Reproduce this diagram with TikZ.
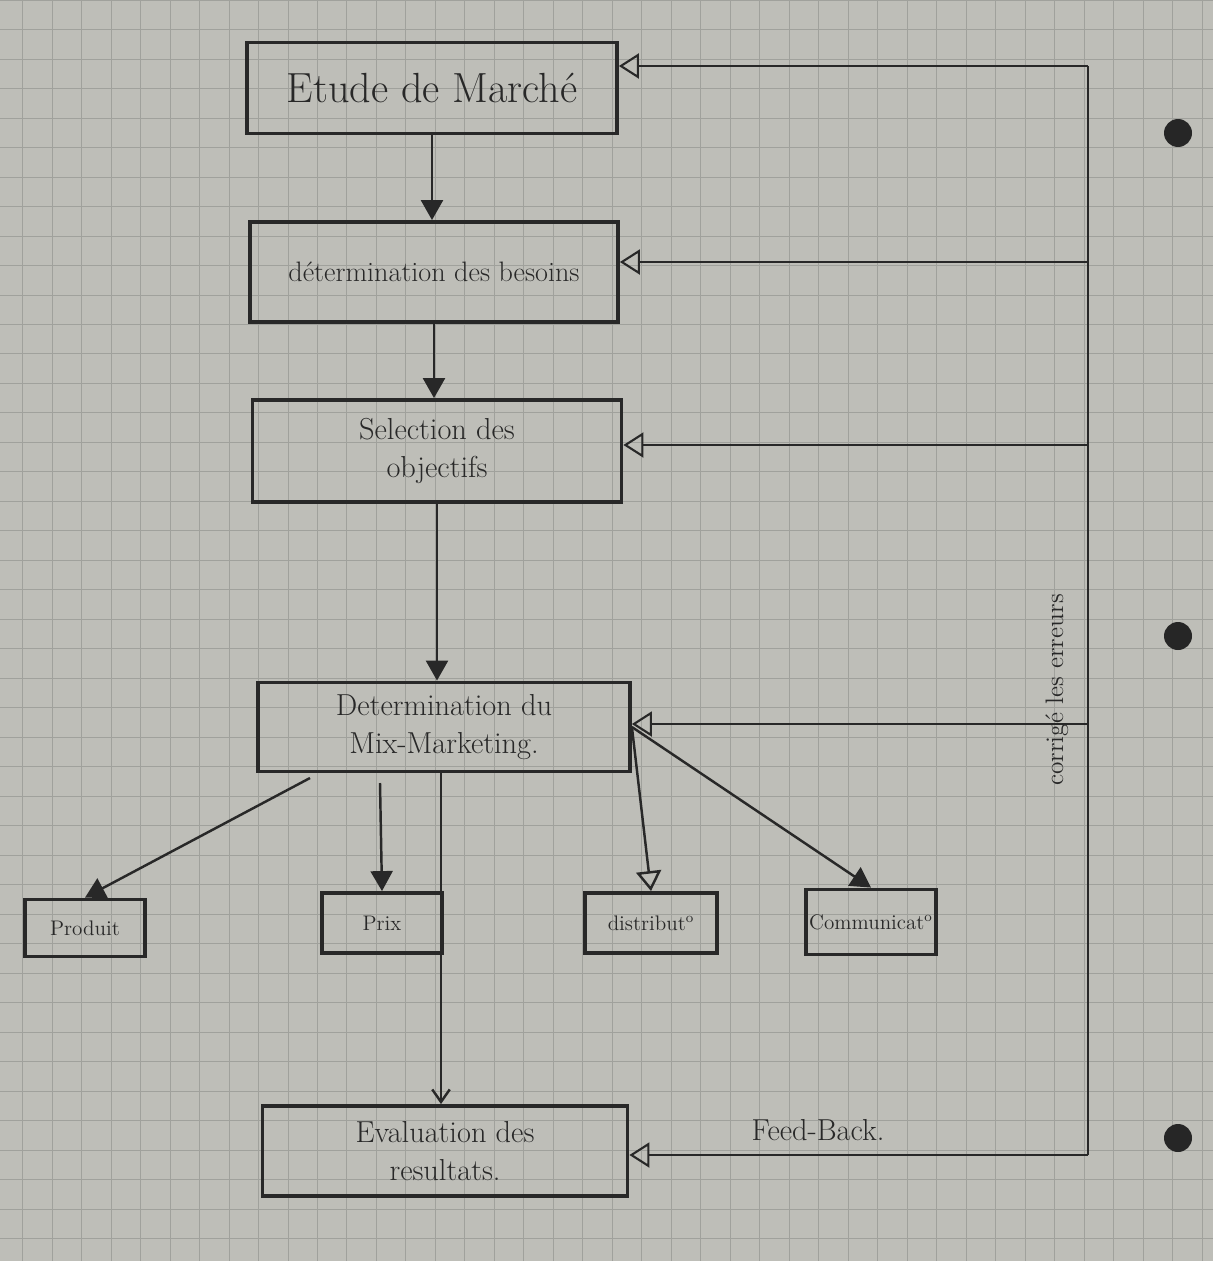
\documentclass[tikz,border=0pt]{standalone}
\usetikzlibrary{arrows.meta}

\definecolor{paper}{RGB}{190,190,184}
\definecolor{gridc}{RGB}{160,161,156}
\definecolor{ink}{RGB}{40,40,40}

\tikzset{
  box/.style={draw=ink, line width=2.2pt, inner sep=2pt, align=center, text=ink},
  petit/.style={box, minimum height=1.2cm, font=\large},
  down/.style={draw=ink, line width=1.4pt, -{Triangle[length=4mm,width=4.4mm]}},
  back/.style={draw=ink, line width=1.2pt, -{Triangle[open,length=4mm,width=5mm]}},
}

\begin{document}
\begin{tikzpicture}[x=0.02cm,y=-0.02cm]
\useasboundingbox (0,0) rectangle (1213,1261);
% paper
\fill[paper] (0,0) rectangle (1213,1261);
\begin{scope}
\clip (0,0) rectangle (1213,1261);
\draw[gridc, line width=0.5pt, step=0.59cm, xshift=0.45cm]
     (-30,0) grid (1213,1261);
\end{scope}
% holes
\fill[black!85] (1178,133) circle[radius=0.28cm];
\fill[black!85] (1178,636) circle[radius=0.28cm];
\fill[black!85] (1178,1138) circle[radius=0.28cm];

% main chain
\node[box, minimum width=7.4cm, minimum height=1.82cm, font=\fontsize{24}{28}\selectfont] (etude) at (432,88) {Etude de Marché};
\node[box, minimum width=7.36cm, minimum height=2cm, font=\fontsize{16}{19}\selectfont] (besoins) at (434,272) {détermination des besoins};
\node[box, minimum width=7.38cm, minimum height=2.04cm, font=\LARGE] (objectifs) at (437,451) {Selection des\\objectifs};
\node[box, minimum width=7.44cm, minimum height=1.78cm, font=\LARGE] (mix) at (444,727) {Determination du\\Mix-Marketing.};
\node[box, minimum width=7.3cm, minimum height=1.8cm, font=\LARGE] (evaluation) at (445,1151) {Evaluation des\\resultats.};

% the four P
\node[petit, minimum width=2.4cm, minimum height=1.14cm] (produit) at (85,928) {Produit};
\node[petit, minimum width=2.4cm] (prix) at (382,923) {Prix};
\node[petit, minimum width=2.64cm] (distribution) at (651,923) {distribut\textsuperscript{o}};
\node[petit, minimum width=2.54cm, minimum height=1.3cm] (communication) at (871,922) {Communicat\textsuperscript{o}};

\draw[down] (etude.south) -- (etude.south |- besoins.north);
\draw[down] (besoins.south) -- (besoins.south |- objectifs.north);
\draw[down] (objectifs.south) -- (objectifs.south |- mix.north);
\coordinate (m3) at (441,772);
\draw[draw=ink, line width=1.4pt, -{Straight Barb[length=2.5mm,width=3.5mm]}] (m3) -- (m3 |- evaluation.north);

\coordinate (m1) at (310,778);
\coordinate (m2) at (380,783);
\draw[down] (m1) -- (produit.north);
\draw[down] (m2) -- (prix.north);
\draw[back, line width=1.4pt] (mix.east) -- (distribution.north);
\draw[down] (mix.east) -- (communication.north);

% feed-back
\coordinate (c1) at (1088,66);
\coordinate (c2) at (1088,262);
\coordinate (c3) at (1088,445);
\coordinate (c4) at (1088,724);
\coordinate (c5) at (1088,1155);
\draw[draw=ink, line width=1.2pt] (c1) -- (c5);
\draw[back] (c1) -- (c1 -| etude.east);
\draw[back] (c2) -- (c2 -| besoins.east);
\draw[back] (c3) -- (c3 -| objectifs.east);
\draw[back] (c4) -- (c4 -| mix.east);
\draw[back] (c5) -- (c5 -| evaluation.east);

\node[font=\LARGE, text=ink] (feedback) at (818,1130) {Feed-Back.};
\node[rotate=90, font=\Large, text=ink] (corrige) at (1057,690) {corrigé les erreurs};
\end{tikzpicture}
\end{document}
